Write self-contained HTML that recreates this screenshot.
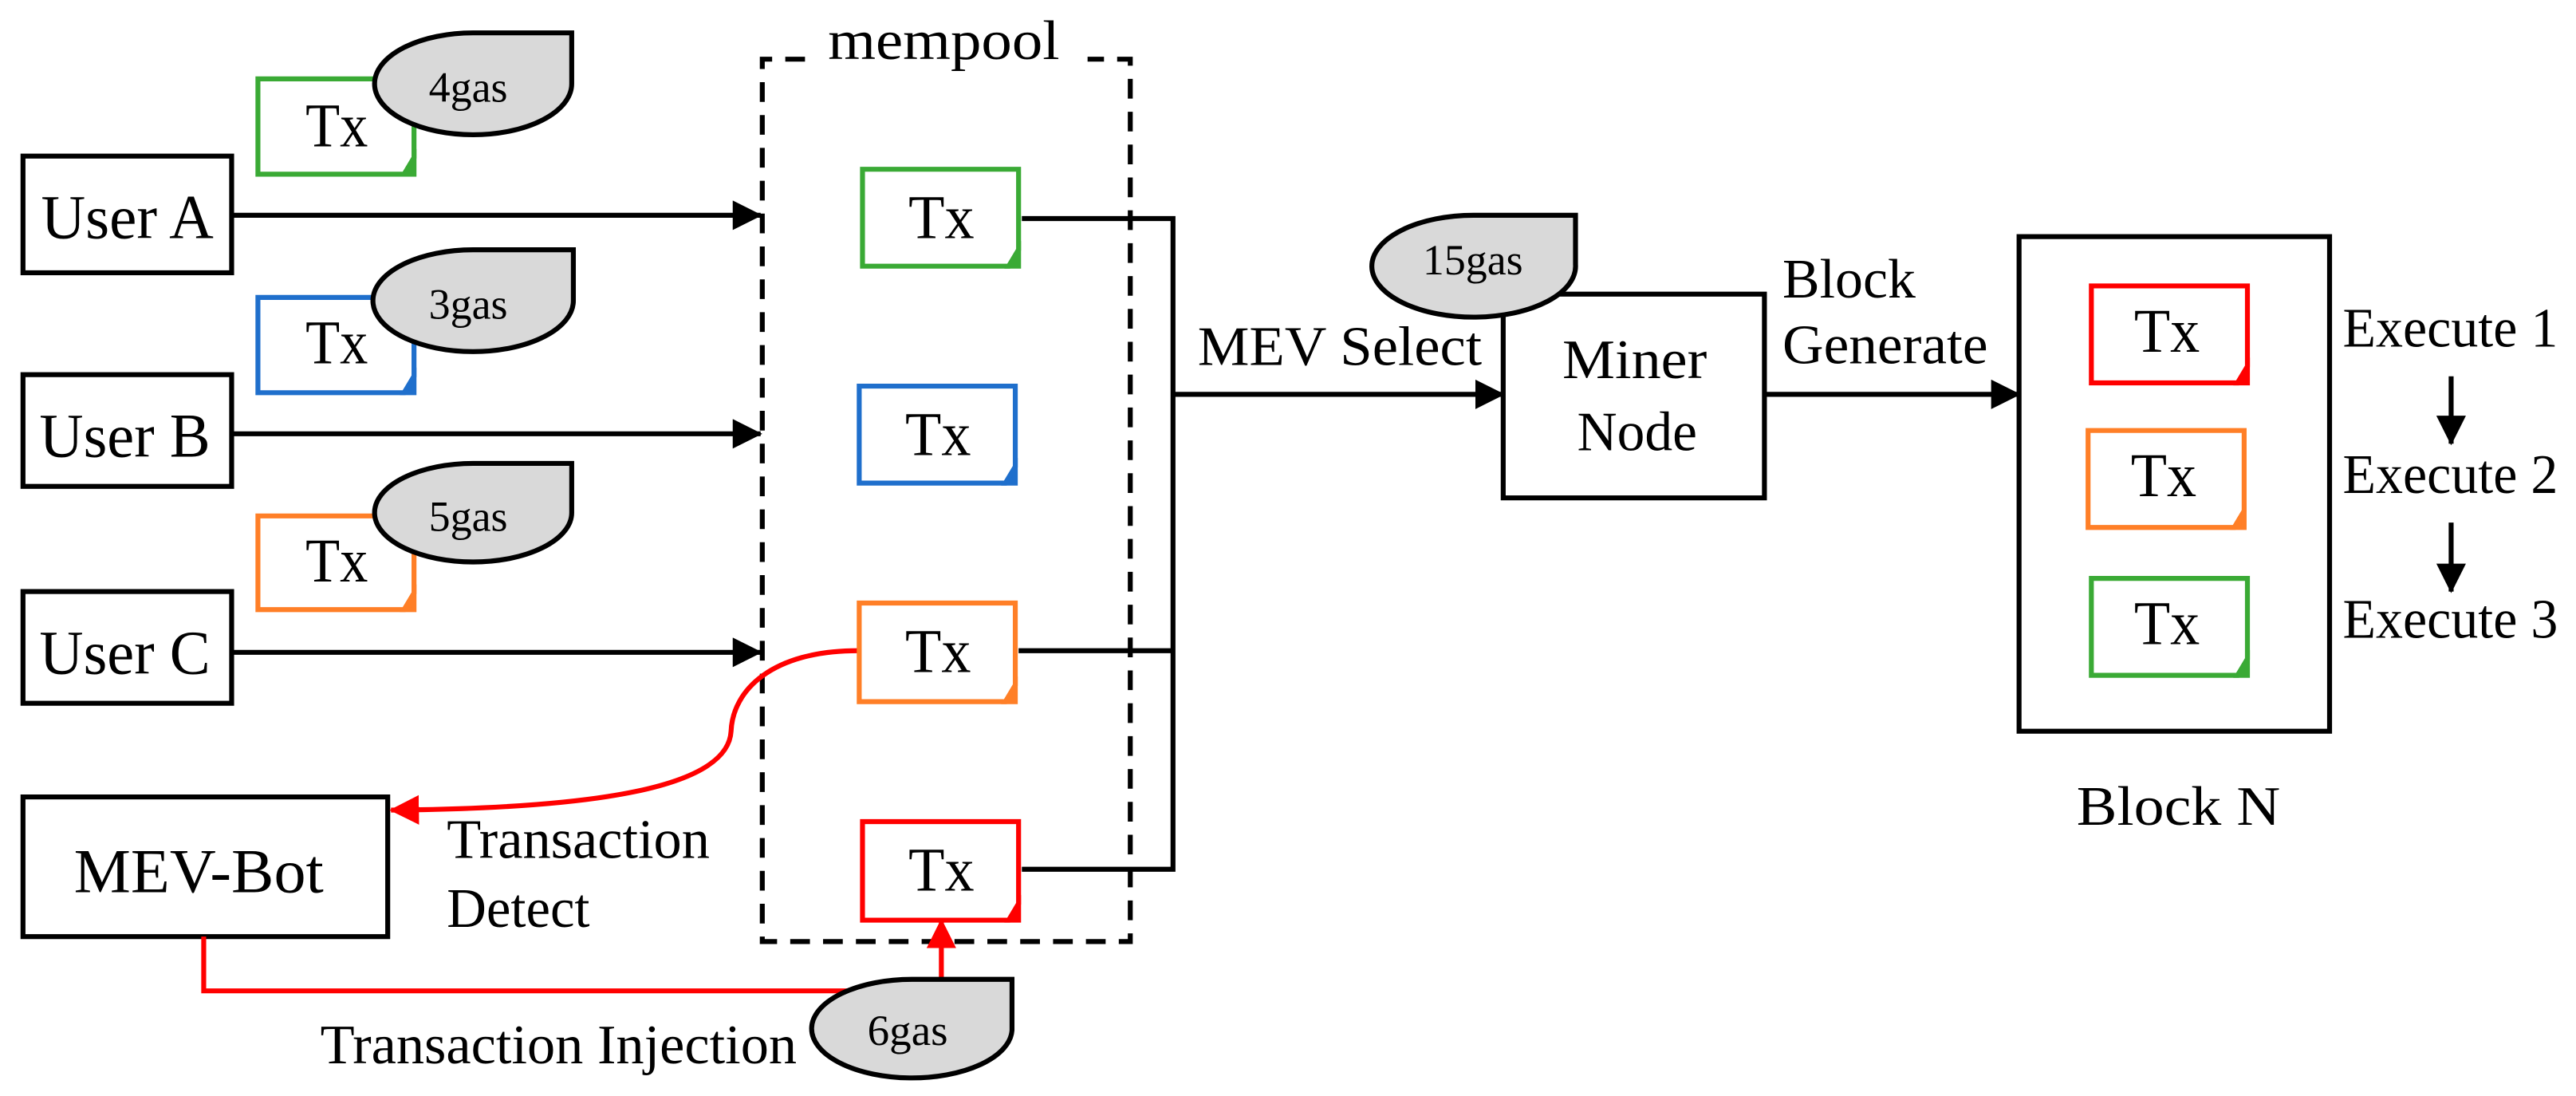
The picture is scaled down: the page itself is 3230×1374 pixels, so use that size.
<!DOCTYPE html>
<html><head><meta charset="utf-8"><style>
html,body{margin:0;padding:0;background:#fff;}
svg{display:block;}
text{font-family:"Liberation Serif",serif;fill:#000;}
</style></head><body>
<svg width="3230" height="1374" viewBox="0 0 1568 667" preserveAspectRatio="none" xmlns="http://www.w3.org/2000/svg">
<defs>
<marker id="ab2" markerWidth="18" markerHeight="18" refX="17" refY="9" orient="auto" markerUnits="userSpaceOnUse"><path d="M0,0 L18,9 L0,18 Z" fill="#000"/></marker>
<marker id="ar" markerWidth="18" markerHeight="18" refX="17" refY="9" orient="auto" markerUnits="userSpaceOnUse"><path d="M0,0 L18,9 L0,18 Z" fill="#f00"/></marker>
</defs>
<g fill="none" stroke="#000" stroke-width="3">
<rect x="14" y="95" width="127" height="71" fill="#fff"/>
<rect x="14" y="228" width="127" height="68" fill="#fff"/>
<rect x="14" y="360" width="127" height="68" fill="#fff"/>
<rect x="14" y="485" width="222" height="85" fill="#fff"/>
<line x1="141" y1="131" x2="463" y2="131" marker-end="url(#ab2)"/>
<line x1="141" y1="264" x2="463" y2="264" marker-end="url(#ab2)"/>
<line x1="141" y1="397" x2="463" y2="397" marker-end="url(#ab2)"/>
<path d="M490,36 H464 V573 H688 V36 H662" stroke-dasharray="12,8"/>
<path d="M622,133 H714 V529 H622"/>
<line x1="620" y1="396" x2="714" y2="396"/>
<line x1="714" y1="240" x2="915" y2="240" marker-end="url(#ab2)"/>
<rect x="915" y="179" width="159" height="124" fill="#fff"/>
<line x1="1074" y1="240" x2="1229" y2="240" marker-end="url(#ab2)"/>
<rect x="1229" y="144" width="189" height="301" fill="#fff"/>
<line x1="1492" y1="229" x2="1492" y2="270" marker-end="url(#ab2)"/>
<line x1="1492" y1="318" x2="1492" y2="360" marker-end="url(#ab2)"/>
</g>
<g fill="none" stroke="#f00" stroke-width="3">
<path d="M522,396 C470,396 446,420 445,445 C443,480 360,492 238,493" marker-end="url(#ar)"/>
<path d="M124,570 V603 H520"/>
<line x1="573" y1="596" x2="573" y2="560" marker-end="url(#ar)"/>
</g>
<g stroke-width="3" fill="#fff">
<path d="M157,48 H252 V96 L246,106 H157 Z" stroke="#3aaa35"/><path d="M252,96 L246,106 L252,106 Z" fill="#3aaa35" stroke="#3aaa35"/>
<path d="M157,181 H252 V229 L246,239 H157 Z" stroke="#1f6fcc"/><path d="M252,229 L246,239 L252,239 Z" fill="#1f6fcc" stroke="#1f6fcc"/>
<path d="M157,314 H252 V361 L246,371 H157 Z" stroke="#ff7f27"/><path d="M252,361 L246,371 L252,371 Z" fill="#ff7f27" stroke="#ff7f27"/>
<path d="M525,103 H620 V152 L614,162 H525 Z" stroke="#3aaa35"/><path d="M620,152 L614,162 L620,162 Z" fill="#3aaa35" stroke="#3aaa35"/>
<path d="M523,235 H618 V284 L612,294 H523 Z" stroke="#1f6fcc"/><path d="M618,284 L612,294 L618,294 Z" fill="#1f6fcc" stroke="#1f6fcc"/>
<path d="M523,367 H618 V417 L612,427 H523 Z" stroke="#ff7f27"/><path d="M618,417 L612,427 L618,427 Z" fill="#ff7f27" stroke="#ff7f27"/>
<path d="M525,500 H620 V550 L614,560 H525 Z" stroke="#f00"/><path d="M620,550 L614,560 L620,560 Z" fill="#f00" stroke="#f00"/>
<path d="M1273,174 H1368 V223 L1362,233 H1273 Z" stroke="#f00"/><path d="M1368,223 L1362,233 L1368,233 Z" fill="#f00" stroke="#f00"/>
<path d="M1271,262 H1366 V311 L1360,321 H1271 Z" stroke="#ff7f27"/><path d="M1366,311 L1360,321 L1366,321 Z" fill="#ff7f27" stroke="#ff7f27"/>
<path d="M1273,352 H1368 V401 L1362,411 H1273 Z" stroke="#3aaa35"/><path d="M1368,401 L1362,411 L1368,411 Z" fill="#3aaa35" stroke="#3aaa35"/>
</g>
<g fill="#d9d9d9" stroke="#000" stroke-width="3">
<path d="M288,20 H348 V51 A60,31 0 1 1 288,20 Z"/>
<path d="M288,152 H349 V183 A61,31 0 1 1 288,152 Z"/>
<path d="M288,282 H348 V312 A60,30 0 1 1 288,282 Z"/>
<path d="M897,131 H959 V161 A62,31 0 1 1 897,131 Z"/>
<path d="M555,596 H616 V627 A61,30 0 1 1 555,596 Z"/>
</g>
<g font-size="38">
<text x="25" y="145" textLength="105" lengthAdjust="spacingAndGlyphs">User A</text>
<text x="24" y="278" textLength="104" lengthAdjust="spacingAndGlyphs">User B</text>
<text x="24" y="410" textLength="104" lengthAdjust="spacingAndGlyphs">User C</text>
<text x="45" y="543" textLength="152" lengthAdjust="spacingAndGlyphs">MEV-Bot</text>
<text x="186" y="89" textLength="38" lengthAdjust="spacingAndGlyphs">Tx</text>
<text x="186" y="221" textLength="38" lengthAdjust="spacingAndGlyphs">Tx</text>
<text x="186" y="354" textLength="38" lengthAdjust="spacingAndGlyphs">Tx</text>
<text x="553" y="145" textLength="40" lengthAdjust="spacingAndGlyphs">Tx</text>
<text x="551" y="277" textLength="40" lengthAdjust="spacingAndGlyphs">Tx</text>
<text x="551" y="409" textLength="40" lengthAdjust="spacingAndGlyphs">Tx</text>
<text x="553" y="542" textLength="40" lengthAdjust="spacingAndGlyphs">Tx</text>
<text x="1299" y="214" textLength="40" lengthAdjust="spacingAndGlyphs">Tx</text>
<text x="1297" y="302" textLength="40" lengthAdjust="spacingAndGlyphs">Tx</text>
<text x="1299" y="392" textLength="40" lengthAdjust="spacingAndGlyphs">Tx</text>
</g>
<g font-size="34">
<text x="504" y="36" textLength="141" lengthAdjust="spacingAndGlyphs">mempool</text>
<text x="729" y="222" textLength="173" lengthAdjust="spacingAndGlyphs">MEV Select</text>
<text x="951" y="230" textLength="88" lengthAdjust="spacingAndGlyphs">Miner</text>
<text x="960" y="274" textLength="73" lengthAdjust="spacingAndGlyphs">Node</text>
<text x="1085" y="181" textLength="81" lengthAdjust="spacingAndGlyphs">Block</text>
<text x="1085" y="221" textLength="125" lengthAdjust="spacingAndGlyphs">Generate</text>
<text x="1426" y="211" textLength="131" lengthAdjust="spacingAndGlyphs">Execute 1</text>
<text x="1426" y="300" textLength="131" lengthAdjust="spacingAndGlyphs">Execute 2</text>
<text x="1426" y="388" textLength="131" lengthAdjust="spacingAndGlyphs">Execute 3</text>
<text x="1264" y="502" textLength="124" lengthAdjust="spacingAndGlyphs">Block N</text>
<text x="272" y="522" textLength="160" lengthAdjust="spacingAndGlyphs">Transaction</text>
<text x="272" y="564" textLength="87" lengthAdjust="spacingAndGlyphs">Detect</text>
<text x="195" y="647" textLength="290" lengthAdjust="spacingAndGlyphs">Transaction Injection</text>
</g>
<g font-size="26">
<text x="261" y="62" textLength="48" lengthAdjust="spacingAndGlyphs">4gas</text>
<text x="261" y="194" textLength="48" lengthAdjust="spacingAndGlyphs">3gas</text>
<text x="261" y="323" textLength="48" lengthAdjust="spacingAndGlyphs">5gas</text>
<text x="866" y="167" textLength="61" lengthAdjust="spacingAndGlyphs">15gas</text>
<text x="528" y="636" textLength="49" lengthAdjust="spacingAndGlyphs">6gas</text>
</g>
</svg>
</body></html>
